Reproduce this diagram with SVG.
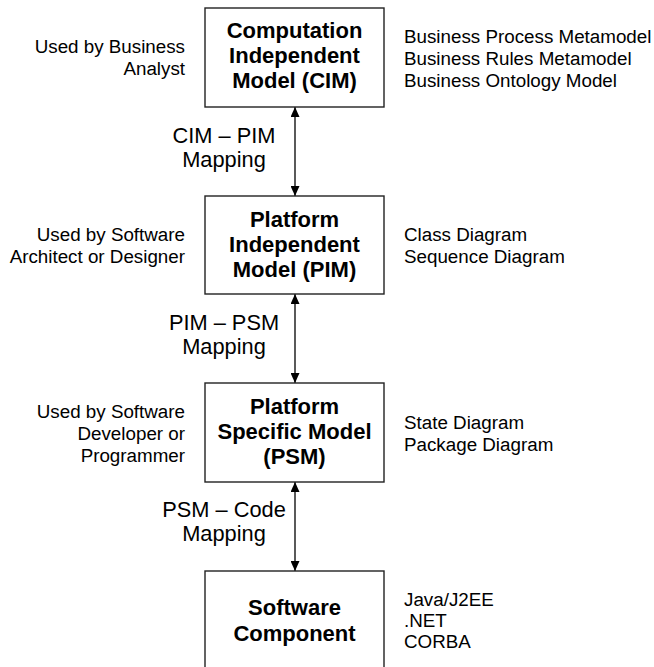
<svg xmlns="http://www.w3.org/2000/svg" width="654" height="667" viewBox="0 0 654 667">
<defs>
<style>
.box{fill:#fff;stroke:#222;stroke-width:1.4}
.bt{font-family:"Liberation Sans",Arial,sans-serif;font-weight:bold;font-size:22px;fill:#000;text-anchor:middle}
.side{font-family:"Liberation Sans",Arial,sans-serif;font-size:18.8px;fill:#000}
.l{text-anchor:end}
.map{font-family:"Liberation Sans",Arial,sans-serif;font-size:21.8px;fill:#000;text-anchor:middle}
.conn{stroke:#000;stroke-width:1.3;fill:none;marker-start:url(#ah);marker-end:url(#ah)}
</style>
<marker id="ah" viewBox="0 0 10 9" refX="10" refY="4.5" markerWidth="10" markerHeight="9" markerUnits="userSpaceOnUse" orient="auto-start-reverse">
<path d="M0,0 L10,4.5 L0,9 z" fill="#000"/>
</marker>
</defs>
<rect width="654" height="667" fill="#fff"/>
<g id="connectors">
<line class="conn" x1="295" y1="107" x2="295" y2="196"/>
<line class="conn" x1="295" y1="294" x2="295" y2="383"/>
<line class="conn" x1="295" y1="482" x2="295" y2="571"/>
<text class="map" x="224" y="143">CIM – PIM</text>
<text class="map" x="224" y="167">Mapping</text>
<text class="map" x="224" y="330">PIM – PSM</text>
<text class="map" x="224" y="354">Mapping</text>
<text class="map" x="224" y="517">PSM – Code</text>
<text class="map" x="224" y="541">Mapping</text>
</g>
<g id="cim">
<rect class="box" x="205" y="8" width="179" height="99"/>
<text class="bt" x="294.5" y="38">Computation</text>
<text class="bt" x="294.5" y="63">Independent</text>
<text class="bt" x="294.5" y="88">Model (CIM)</text>
<text class="side l" x="185" y="53">Used by Business</text>
<text class="side l" x="185" y="75">Analyst</text>
<text class="side" x="404" y="42.5">Business Process Metamodel</text>
<text class="side" x="404" y="64.5">Business Rules Metamodel</text>
<text class="side" x="404" y="86.5">Business Ontology Model</text>
</g>
<g id="pim">
<rect class="box" x="205" y="196" width="179" height="98"/>
<text class="bt" x="294.5" y="227">Platform</text>
<text class="bt" x="294.5" y="252">Independent</text>
<text class="bt" x="294.5" y="277">Model (PIM)</text>
<text class="side l" x="185" y="241">Used by Software</text>
<text class="side l" x="185" y="263">Architect or Designer</text>
<text class="side" x="404" y="241">Class Diagram</text>
<text class="side" x="404" y="263">Sequence Diagram</text>
</g>
<g id="psm">
<rect class="box" x="205" y="383" width="179" height="99"/>
<text class="bt" x="294.5" y="414">Platform</text>
<text class="bt" x="294.5" y="439">Specific Model</text>
<text class="bt" x="294.5" y="464">(PSM)</text>
<text class="side l" x="185" y="418">Used by Software</text>
<text class="side l" x="185" y="440">Developer or</text>
<text class="side l" x="185" y="462">Programmer</text>
<text class="side" x="404" y="429">State Diagram</text>
<text class="side" x="404" y="451">Package Diagram</text>
</g>
<g id="software-component">
<rect class="box" x="205" y="571" width="179" height="100"/>
<text class="bt" x="294.5" y="615">Software</text>
<text class="bt" x="294.5" y="641">Component</text>
<text class="side" x="404" y="606">Java/J2EE</text>
<text class="side" x="404" y="627">.NET</text>
<text class="side" x="404" y="648">CORBA</text>
</g>
</svg>
